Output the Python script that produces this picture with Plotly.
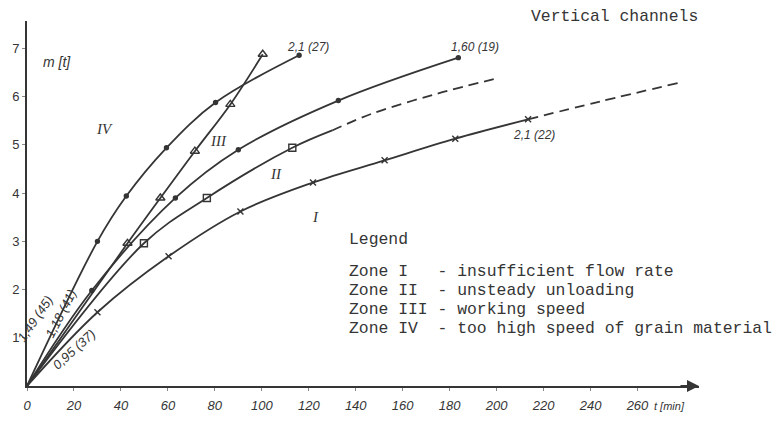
import plotly.graph_objects as go

# ---- data (t [min], m [t]) ----
# Zone IV curve (dots), ends at "2,1 (27)"
iv_t = [0, 30, 42.3, 59.4, 80.3, 115.9]
iv_m = [0, 3.0, 3.94, 4.94, 5.88, 6.86]
# Zone III curve (open triangles)
iii_t = [0, 42.8, 56.8, 71.5, 86.6, 100.4]
iii_m = [0, 2.96, 3.9, 4.87, 5.84, 6.88]
# curve ending at "1,60 (19)" (dots)
c160_t = [0, 27.6, 63.2, 90.0, 132.6, 183.7]
c160_m = [0, 1.98, 3.9, 4.9, 5.92, 6.81]
# Zone II curve (open squares), solid part and dashed extension
ii_t = [0, 49.8, 76.6, 113.0, 130.0]
ii_m = [0, 2.96, 3.9, 4.94, 5.3]
ii_mark_t = [49.8, 76.6, 113.0]
ii_mark_m = [2.96, 3.9, 4.94]
ii_dash_t = [130.0, 147.0, 174.5, 201.0]
ii_dash_m = [5.3, 5.65, 6.06, 6.39]
# Zone I curve (x marks), ends at "2,1 (22)", dashed extension
i_t = [0, 30.0, 60.3, 90.9, 121.8, 152.3, 182.4, 213.4]
i_m = [0, 1.53, 2.69, 3.62, 4.22, 4.68, 5.13, 5.53]
i_dash_t = [213.4, 244.0, 277.8]
i_dash_m = [5.53, 5.9, 6.29]

x_ticks = list(range(0, 261, 20))
y_ticks = [1, 2, 3, 4, 5, 6, 7]

legend_title = "Legend"
legend_lines = [
    "Zone I\u00a0\u00a0\u00a0- insufficient flow rate",
    "Zone II\u00a0\u00a0- unsteady unloading",
    "Zone III - working speed",
    "Zone IV\u00a0\u00a0- too high speed of grain material",
]

INK = "#353535"
LW = 1.8

fig = go.Figure()


def curve(t, m, dash="solid"):
    fig.add_trace(go.Scatter(x=t, y=m, mode="lines",
                             line=dict(color=INK, width=LW, shape="spline",
                                       smoothing=1.0, dash=dash),
                             hoverinfo="skip", showlegend=False))


def marks(t, m, symbol, size, lw=1.4):
    fig.add_trace(go.Scatter(x=t, y=m, mode="markers",
                             marker=dict(symbol=symbol, size=size, color=INK,
                                         line=dict(color=INK, width=lw)),
                             cliponaxis=False, hoverinfo="skip",
                             showlegend=False))


curve(iv_t, iv_m)
curve(iii_t, iii_m)
curve(c160_t, c160_m)
curve(ii_t, ii_m)
curve(ii_dash_t, ii_dash_m, dash="10px,6px")
curve(i_t, i_m)
curve(i_dash_t, i_dash_m, dash="10px,6px")

marks(iv_t[1:], iv_m[1:], "circle", 4)
marks(iii_t[1:], iii_m[1:], "triangle-up-open", 8)
marks(c160_t[1:], c160_m[1:], "circle", 4)
marks(ii_mark_t, ii_mark_m, "square-open", 7)
marks(i_t[1:], i_m[1:], "x-thin-open", 6)

ann = []
ital = dict(family="Liberation Sans", size=12, color=INK, style="italic")
ital13 = dict(family="Liberation Sans", size=13, color=INK, style="italic")
roman = dict(family="Liberation Serif", size=15, color=INK, style="italic")
mono = dict(family="Liberation Mono", size=16.4, color=INK)

ann.append(dict(x=12.6, y=6.71, text="m [t]", font=dict(family="Liberation Sans", size=14, color=INK, style="italic")))
ann.append(dict(x=32.8, y=5.33, text="IV", font=roman))
ann.append(dict(x=81.5, y=5.08, text="III", font=roman))
ann.append(dict(x=105.9, y=4.39, text="II", font=roman))
ann.append(dict(x=122.7, y=3.51, text="I", font=roman))
ann.append(dict(x=119.7, y=7.04, text="2,1 (27)", font=ital))
ann.append(dict(x=190.8, y=7.04, text="1,60 (19)", font=ital))
ann.append(dict(x=216.0, y=5.2, text="2,1 (22)", font=ital))
ann.append(dict(x=3.5, y=1.4, text="1,49 (45)", textangle=-56, font=ital13))
ann.append(dict(x=14.5, y=1.5, text="1,18 (41)", textangle=-63, font=ital13))
ann.append(dict(x=20.0, y=0.76, text="0,95 (37)", textangle=-42, font=ital13))

ann.append(dict(x=136.1, y=3.04, text=legend_title, font=mono, xanchor="left"))
for k, line in enumerate(legend_lines):
    ann.append(dict(x=136.1, y=2.37 - k * 0.39, text=line, font=mono, xanchor="left"))

for a in ann:
    a.setdefault("showarrow", False)
    a.setdefault("xref", "x")
    a.setdefault("yref", "y")

# texts outside the data range: paper coordinates
ann.append(dict(x=0.956, y=-0.054, xref="paper", yref="paper", showarrow=False,
                xanchor="center", yanchor="middle", text="t [min]",
                font=dict(family="Liberation Sans", size=11, color=INK, style="italic")))
ann.append(dict(x=0.874, y=1.011, xref="paper", yref="paper", showarrow=False,
                xanchor="center", yanchor="middle",
                text="Vertical channels", font=mono))

# x axis arrow head
ann.append(dict(x=286.2, y=0, ax=-20, ay=0, xref="x", yref="y", text="",
                showarrow=True, arrowhead=2, arrowsize=1.2, arrowwidth=2,
                arrowcolor=INK))

fig.update_layout(
    width=778, height=425,
    margin=dict(l=18, r=79, t=21, b=33),
    paper_bgcolor="white", plot_bgcolor="white",
    annotations=ann,
    xaxis=dict(range=[0, 286.2], tickvals=x_ticks, showline=True,
               linecolor=INK, linewidth=1.6, ticks="outside", ticklen=3,
               tickcolor="#888", showgrid=False, zeroline=False,
               ticklabelstandoff=4,
               tickfont=dict(family="Liberation Sans", size=13, color=INK,
                             style="italic")),
    yaxis=dict(range=[0, 7.57], tickvals=y_ticks, showline=True,
               linecolor=INK, linewidth=2, ticks="outside", ticklen=3,
               tickcolor="#888", showgrid=False, zeroline=False,
               tickfont=dict(family="Liberation Sans", size=13, color=INK)),
)

fig.write_html("out.html")
